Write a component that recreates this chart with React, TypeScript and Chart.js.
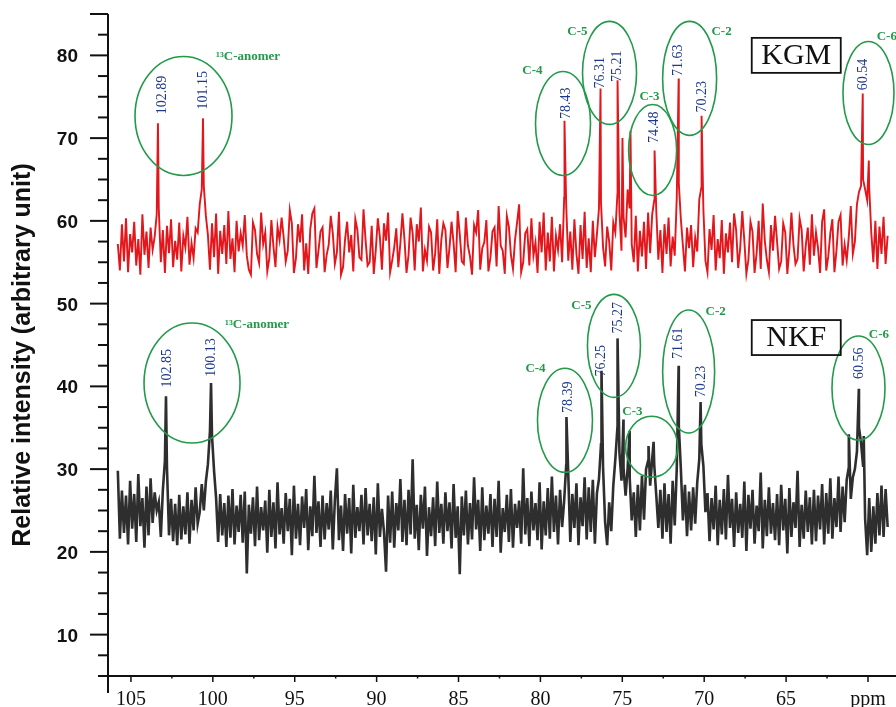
import React, { useEffect, useRef } from 'react';
import { Chart, registerables } from 'chart.js';

Chart.register(...registerables);

// Sampling grid of the spectra (ppm of first sample and spacing)
const GRID_START = 105.8;
const GRID_STEP = 0.125;

// KGM spectrum: baseline samples (red trace)
const kgmNoise: number[] = [
  57.2, 54.0, 59.6, 55.1, 60.3, 53.8, 58.4, 56.2, 59.9, 54.6, 57.8, 53.5, 60.8, 55.9, 58.7, 54.3, 59.2, 56.5, 58.1, 60.8,
  61.5, 55.0, 58.9, 53.7, 59.4, 56.1, 60.2, 54.4, 57.6, 55.3, 59.8, 53.9, 58.2, 56.8, 60.5, 54.7, 57.3, 55.5, 59.1, 58.6,
  62.0, 63.8, 64.2, 60.6, 58.3, 54.1, 59.7, 55.6, 60.9, 53.6, 58.8, 56.0, 59.5, 54.8, 61.2, 55.4, 57.9, 53.8, 60.0, 56.3,
  58.5, 57.0, 60.7, 55.8, 54.1, 53.5, 59.8, 58.9, 56.0, 54.9, 61.0, 57.2, 58.6, 53.9, 55.5, 60.1, 56.9, 54.4, 59.3, 57.7,
  60.4, 58.0, 55.1, 56.4, 61.3, 59.7, 53.7, 55.5, 59.6, 57.4, 60.8, 54.0, 57.3, 53.6, 59.0, 60.9, 61.5, 54.3, 56.4, 58.7,
  59.2, 53.8, 55.9, 57.1, 60.6, 58.5, 54.8, 56.2, 61.1, 53.5, 54.4, 57.8, 59.9, 56.2, 58.3, 53.9, 60.2, 58.9, 55.6, 55.3,
  61.4, 57.7, 54.6, 55.0, 59.4, 53.6, 56.5, 60.3, 58.0, 54.1, 59.7, 57.6, 61.0, 53.8, 55.2, 56.8, 59.1, 54.4, 57.3, 60.9,
  57.8, 53.7, 55.9, 60.4, 58.5, 54.0, 59.6, 57.5, 61.6, 53.9, 56.5, 55.2, 59.3, 58.6, 54.0, 56.1, 60.2, 53.6, 57.7, 59.7,
  58.9, 54.3, 56.8, 59.9, 57.3, 53.8, 61.2, 58.4, 55.1, 54.8, 60.4, 57.0, 55.7, 53.5, 59.5, 58.6, 61.3, 54.1, 56.7, 57.4,
  60.1, 53.9, 55.6, 58.7, 59.2, 54.5, 61.8, 57.0, 56.4, 53.6, 60.6, 59.3, 55.9, 54.2, 57.7, 59.8, 62.0, 53.8, 55.0, 58.5,
  59.0, 54.6, 60.3, 55.8, 57.4, 53.7, 59.9, 56.2, 61.0, 54.0, 58.6, 55.1, 60.5, 53.9, 58.2, 56.5, 59.6, 55.0, 62.8, 61.9,
  55.2, 58.7, 54.1, 60.2, 56.0, 53.6, 59.5, 55.4, 61.1, 54.3, 57.9, 53.8, 60.0, 55.6, 58.4, 61.5, 62.2, 56.8, 54.5, 59.3,
  57.5, 54.0, 59.8, 58.6, 63.2, 61.0, 56.4, 60.5, 58.0, 63.8, 61.5, 57.2, 55.0, 60.6, 53.9, 58.8, 55.7, 59.9, 54.2, 61.0,
  56.1, 60.8, 62.5, 61.2, 55.3, 58.9, 53.7, 59.6, 56.0, 60.4, 54.5, 58.1, 55.8, 62.8, 64.5, 60.2, 57.0, 53.9, 59.2, 56.7,
  59.5, 54.4, 58.0, 56.3, 62.6, 64.0, 61.4, 55.2, 53.8, 59.0, 56.5, 60.7, 54.0, 57.8, 55.5, 60.1, 53.6, 58.5, 56.2, 59.8,
  55.0, 60.9, 58.9, 54.3, 56.8, 61.2, 57.6, 53.6, 55.3, 59.9, 58.7, 53.7, 56.1, 60.0, 54.2, 62.1, 57.6, 55.3, 53.8, 59.5,
  56.4, 60.6, 57.5, 54.2, 55.1, 59.7, 58.6, 53.6, 56.6, 61.0, 57.1, 54.8, 55.4, 60.3, 58.9, 53.9, 57.0, 59.2, 54.7, 60.8,
  55.8, 58.6, 56.7, 53.7, 59.9, 61.4, 54.0, 55.7, 58.5, 60.2, 53.8, 56.4, 59.9, 60.7, 54.6, 57.1, 55.2, 58.0, 61.8, 56.0,
  57.5, 62.0, 63.5, 64.2, 65.0, 63.8, 62.5, 64.0, 58.6, 55.0, 60.0, 54.2, 59.3, 56.0, 60.5, 54.8, 58.2,
];

// KGM resonance tops (ppm, intensity)
const kgmPeakPpm: number[] = [103.35, 100.6, 78.53, 76.33, 75.29, 74.99, 74.5, 73.03, 71.56, 70.16, 60.32, 59.95];
const kgmPeakVal: number[] = [71.8, 72.4, 72.1, 76.0, 77.0, 70.0, 70.9, 68.5, 77.2, 72.7, 75.4, 67.3];

// NKF spectrum: baseline samples (dark trace)
const nkfNoise: number[] = [
  29.8, 21.6, 27.4, 22.3, 26.8, 20.9, 28.6, 22.8, 27.0, 21.2, 29.4, 23.1, 26.5, 20.5, 27.9, 22.0, 28.9, 23.5, 27.2, 25.0,
  26.0, 21.8, 27.5, 31.0, 30.2, 22.0, 26.4, 21.3, 25.8, 20.8, 26.9, 21.5, 25.5, 22.1, 27.2, 21.0, 26.3, 22.6, 27.8, 23.4,
  24.8, 28.2, 25.0, 28.5, 30.6, 34.6, 34.0, 29.8, 26.5, 21.2, 27.0, 22.0, 25.9, 20.6, 26.8, 21.7, 27.6, 20.9, 25.6, 22.4,
  26.9, 21.1, 27.3, 17.4, 25.7, 22.2, 26.6, 20.7, 27.9, 21.4, 25.4, 22.6, 26.2, 19.9, 27.5, 21.8, 26.0, 20.4, 28.4, 22.1,
  25.3, 21.0, 27.1, 22.5, 26.4, 19.6, 28.0, 21.6, 25.8, 20.8, 26.7, 22.9, 27.6, 20.2, 25.5, 21.9, 29.2, 22.3, 26.1, 20.6,
  26.8, 21.5, 25.9, 22.7, 27.4, 20.3, 26.2, 30.1, 21.4, 25.6, 20.1, 27.0, 22.2, 26.5, 19.8, 28.1, 21.7, 25.4, 22.5, 26.9,
  20.9, 27.7, 22.0, 25.8, 21.3, 26.6, 19.7, 28.3, 21.8, 25.2, 22.4, 17.6, 26.8, 21.1, 27.3, 20.5, 25.9, 22.6, 28.8, 21.2,
  26.3, 20.8, 27.5, 22.1, 31.2, 21.6, 25.7, 20.2, 26.9, 22.8, 27.9, 19.5, 25.4, 21.9, 26.6, 20.7, 28.5, 22.3, 25.8, 21.0,
  27.2, 22.5, 26.0, 20.4, 28.2, 21.7, 25.5, 17.3, 26.7, 22.0, 27.4, 20.9, 25.9, 21.5, 29.0, 22.7, 26.3, 20.1, 27.8, 21.4,
  25.6, 22.2, 27.0, 20.6, 26.4, 21.8, 28.6, 19.9, 25.3, 22.4, 26.9, 21.2, 27.6, 20.5, 25.8, 22.9, 26.2, 21.0, 30.1, 22.1,
  26.5, 20.7, 27.3, 22.6, 25.9, 21.4, 28.4, 20.3, 26.1, 22.0, 27.7, 21.6, 29.1, 22.4, 26.8, 20.9, 27.5, 23.0, 26.2, 30.5,
  29.4, 21.2, 27.0, 22.9, 28.3, 20.8, 26.6, 23.1, 29.0, 21.5, 27.8, 22.4, 28.7, 21.0, 27.1, 28.8, 33.0, 30.2, 23.6, 20.8,
  26.0, 22.5, 28.0, 31.2, 35.0, 32.0, 28.6, 30.2, 26.8, 30.1, 29.0, 23.8, 27.2, 21.8, 28.1, 22.6, 29.2, 23.9, 30.0, 31.0,
  28.0, 31.2, 30.5, 26.8, 22.9, 27.5, 21.6, 28.3, 22.4, 27.0, 21.0, 28.6, 23.2, 30.1, 35.2, 30.0, 23.8, 28.1, 21.9, 27.3,
  22.6, 27.8, 23.4, 28.4, 31.2, 33.0, 30.4, 24.8, 27.1, 21.3, 26.5, 22.7, 28.0, 20.8, 26.3, 22.1, 27.6, 21.5, 29.3, 22.9,
  26.4, 20.6, 27.2, 22.3, 25.8, 21.7, 28.5, 20.1, 26.9, 22.8, 27.5, 21.0, 25.6, 22.5, 29.6, 20.4, 26.3, 21.9, 27.8, 22.2,
  25.9, 21.4, 27.0, 20.8, 28.1, 22.6, 26.4, 19.8, 27.7, 21.8, 26.0, 22.9, 29.8, 20.6, 25.7, 21.6, 27.4, 22.4, 26.6, 20.9,
  27.5, 21.3, 26.8, 22.7, 28.2, 20.9, 27.1, 22.2, 28.9, 21.6, 26.5, 23.0, 29.1, 22.4, 27.9, 23.6, 28.7, 30.2, 26.4, 29.0,
  30.0, 32.1, 35.0, 33.2, 30.4, 24.0, 19.6, 26.5, 20.0, 25.5, 21.0, 27.1, 22.0, 28.0, 21.8, 27.6, 23.0,
];

// NKF resonance tops (ppm, intensity)
const nkfPeakPpm: number[] = [102.86, 100.11, 78.41, 76.27, 75.29, 74.93, 74.56, 73.4, 73.09, 71.56, 70.22, 61.17, 60.56, 60.26];
const nkfPeakVal: number[] = [38.8, 40.4, 36.3, 41.9, 45.8, 36.0, 34.6, 32.8, 33.3, 42.5, 38.1, 34.2, 39.7, 34.0];

// Axis tick labels
const xTickValues: number[] = [105, 100, 95, 90, 85, 80, 75, 70, 65];
const xUnitTick = 60;
const xUnitLabel = 'ppm';
const yTickValues: number[] = [10, 20, 30, 40, 50, 60, 70, 80];
const yTitle = 'Relative intensity (arbitrary unit)';

// Annotations (positions in data coordinates)
const ellipses = [
  { ppm: 101.79, val: 72.67, rx: 48.5, ry: 59.5 },
  { ppm: 78.62, val: 71.77, rx: 27.5, ry: 52 },
  { ppm: 75.78, val: 77.88, rx: 27, ry: 51.5 },
  { ppm: 73.15, val: 68.56, rx: 24, ry: 45.5 },
  { ppm: 70.89, val: 77.22, rx: 27, ry: 57 },
  { ppm: 59.97, val: 75.46, rx: 25.5, ry: 51.5 },
  { ppm: 101.27, val: 40.4, rx: 48, ry: 60 },
  { ppm: 78.5, val: 35.9, rx: 27.5, ry: 52 },
  { ppm: 75.51, val: 44.9, rx: 26.5, ry: 51.5 },
  { ppm: 73.21, val: 32.7, rx: 26, ry: 30.5 },
  { ppm: 70.95, val: 41.8, rx: 26, ry: 61.5 },
  { ppm: 60.58, val: 39.8, rx: 26.5, ry: 52 },
];

const groupLabels = [
  { text: '¹³C-anomer', ppm: 97.85, val: 79.9 },
  { text: 'C-4', ppm: 80.49, val: 78.2 },
  { text: 'C-5', ppm: 77.74, val: 82.9 },
  { text: 'C-3', ppm: 73.34, val: 75.0 },
  { text: 'C-2', ppm: 68.94, val: 82.9 },
  { text: 'C-6', ppm: 58.85, val: 82.3 },
  { text: '¹³C-anomer', ppm: 97.3, val: 47.5 },
  { text: 'C-4', ppm: 80.3, val: 42.1 },
  { text: 'C-5', ppm: 77.5, val: 49.7 },
  { text: 'C-3', ppm: 74.38, val: 37.0 },
  { text: 'C-2', ppm: 69.3, val: 49.0 },
  { text: 'C-6', ppm: 59.33, val: 46.3 },
];

const shiftLabels = [
  { text: '102.89', ppm: 103.1, val: 75.2 },
  { text: '101.15', ppm: 100.6, val: 75.8 },
  { text: '78.43', ppm: 78.41, val: 74.2 },
  { text: '76.31', ppm: 76.33, val: 77.9 },
  { text: '75.21', ppm: 75.29, val: 78.7 },
  { text: '74.48', ppm: 73.03, val: 71.3 },
  { text: '71.63', ppm: 71.56, val: 79.4 },
  { text: '70.23', ppm: 70.1, val: 75.0 },
  { text: '60.54', ppm: 60.26, val: 77.7 },
  { text: '102.85', ppm: 102.8, val: 42.2 },
  { text: '100.13', ppm: 100.11, val: 43.5 },
  { text: '78.39', ppm: 78.29, val: 38.7 },
  { text: '76.25', ppm: 76.27, val: 43.1 },
  { text: '75.27', ppm: 75.23, val: 48.3 },
  { text: '71.61', ppm: 71.56, val: 45.2 },
  { text: '70.23', ppm: 70.16, val: 40.6 },
  { text: '60.56', ppm: 60.5, val: 42.8 },
];

const sampleBoxes = [
  { text: 'KGM', ppm: 64.38, val: 80.0 },
  { text: 'NKF', ppm: 64.38, val: 45.9 },
];

const GREEN = '#23994a';
const NAVY = '#1d3888';
const SERIF = '"Liberation Serif", "Times New Roman", serif';
const SANS = '"Liberation Sans", Arial, sans-serif';

function buildSeries(noise: number[], peakPpm: number[], peakVal: number[]) {
  const pts = noise.map((v, i) => ({ x: Math.round((GRID_START - i * GRID_STEP) * 1000) / 1000, y: v }));
  peakPpm.forEach((p, k) => pts.push({ x: p, y: peakVal[k] }));
  pts.sort((a, b) => b.x - a.x);
  return pts;
}

const annotationPlugin = {
  id: 'nmrAnnotations',
  afterDatasetsDraw(chart: any) {
    const { ctx } = chart;
    const xs = chart.scales.x;
    const ys = chart.scales.y;
    const px = (p: number) => xs.getPixelForValue(p);
    const py = (v: number) => ys.getPixelForValue(v);
    ctx.save();
    ctx.strokeStyle = GREEN;
    ctx.lineWidth = 1.6;
    ellipses.forEach((e) => {
      ctx.beginPath();
      ctx.ellipse(px(e.ppm), py(e.val), e.rx, e.ry, 0, 0, Math.PI * 2);
      ctx.stroke();
    });
    ctx.fillStyle = GREEN;
    ctx.font = `bold 13px ${SERIF}`;
    ctx.textAlign = 'center';
    ctx.textBaseline = 'middle';
    groupLabels.forEach((g) => ctx.fillText(g.text, px(g.ppm), py(g.val)));
    ctx.fillStyle = NAVY;
    ctx.font = `14px ${SERIF}`;
    shiftLabels.forEach((s) => {
      ctx.save();
      ctx.translate(px(s.ppm), py(s.val));
      ctx.rotate(-Math.PI / 2);
      ctx.fillText(s.text, 0, 0);
      ctx.restore();
    });
    ctx.strokeStyle = '#111';
    ctx.lineWidth = 1.8;
    ctx.fillStyle = '#111';
    ctx.font = `30px ${SERIF}`;
    sampleBoxes.forEach((b) => {
      const cx = px(b.ppm);
      const cy = py(b.val);
      ctx.strokeRect(cx - 44.5, cy - 17.5, 89, 35);
      ctx.fillText(b.text, cx, cy + 1);
    });
    ctx.restore();
  },
  afterDraw(chart: any) {
    const { ctx, chartArea } = chart;
    const xs = chart.scales.x;
    const ys = chart.scales.y;
    const { left, right, top, bottom } = chartArea;
    ctx.save();
    ctx.strokeStyle = '#111';
    ctx.lineWidth = 2;
    ctx.beginPath();
    ctx.moveTo(left, top);
    ctx.lineTo(left, bottom + 17);
    ctx.moveTo(left - 8, bottom);
    ctx.lineTo(right, bottom);
    ctx.stroke();
    // y ticks and labels
    ctx.fillStyle = '#111';
    ctx.font = `bold 19px ${SANS}`;
    ctx.textAlign = 'right';
    ctx.textBaseline = 'alphabetic';
    ys.ticks.forEach((t: any) => {
      const v = t.value;
      const major = Math.abs(v % 10) < 1e-6 || Math.abs(v - 85) < 1e-6;
      const yy = ys.getPixelForValue(v);
      ctx.beginPath();
      ctx.moveTo(left - (major ? 18 : 10), yy);
      ctx.lineTo(left, yy);
      ctx.stroke();
      if (yTickValues.includes(v)) ctx.fillText(String(v), left - 30, yy + 7);
    });
    // x ticks and labels
    ctx.lineWidth = 1.5;
    ctx.font = `20px ${SERIF}`;
    ctx.textAlign = 'center';
    xs.ticks.forEach((t: any) => {
      const v = t.value;
      const major = Math.abs(v % 5) < 1e-6;
      const xx = xs.getPixelForValue(v);
      ctx.beginPath();
      ctx.moveTo(xx, bottom);
      ctx.lineTo(xx, bottom + (major ? 6 : 2.5));
      ctx.stroke();
      let label: string | null = null;
      if (Math.abs(v - xUnitTick) < 1e-6) label = xUnitLabel;
      else if (xTickValues.includes(v)) label = String(v);
      if (label) ctx.fillText(label, xx, bottom + 29);
    });
    // y title
    ctx.font = `bold 25px ${SANS}`;
    ctx.textBaseline = 'middle';
    ctx.translate(23, 355);
    ctx.rotate(-Math.PI / 2);
    ctx.fillText(yTitle, 0, 0);
    ctx.restore();
  },
};

export default function App() {
  const canvasRef = useRef<HTMLCanvasElement | null>(null);

  useEffect(() => {
    if (!canvasRef.current) return;
    const chart = new Chart(canvasRef.current, {
      type: 'line',
      data: {
        datasets: [
          {
            label: 'KGM',
            data: buildSeries(kgmNoise, kgmPeakPpm, kgmPeakVal),
            borderColor: '#e3161c',
            borderWidth: 1.9,
            pointRadius: 0,
            tension: 0,
            fill: false,
          },
          {
            label: 'NKF',
            data: buildSeries(nkfNoise, nkfPeakPpm, nkfPeakVal),
            borderColor: '#2e2e2e',
            borderWidth: 2.6,
            pointRadius: 0,
            tension: 0,
            fill: false,
          },
        ],
      },
      options: {
        animation: false,
        responsive: false,
        devicePixelRatio: 1,
        layout: { padding: { top: 14, right: 0, left: 108, bottom: 31 } },
        plugins: { legend: { display: false }, tooltip: { enabled: false } },
        scales: {
          x: {
            type: 'linear',
            reverse: true,
            min: 58.29,
            max: 106.4,
            grid: { display: false, drawTicks: false },
            border: { display: false },
            ticks: { display: false, stepSize: 2.5, includeBounds: false, autoSkip: false },
          },
          y: {
            type: 'linear',
            min: 5,
            max: 85,
            grid: { display: false, drawTicks: false },
            border: { display: false },
            ticks: { display: false, stepSize: 2.5, autoSkip: false },
          },
        },
      },
      plugins: [annotationPlugin],
    } as any);
    return () => chart.destroy();
  }, []);

  return (
    <div style={{ position: 'fixed', left: 0, top: 0, width: 896, height: 707, background: '#fff' }}>
      <canvas ref={canvasRef} width={896} height={707} style={{ display: 'block', width: 896, height: 707 }} />
    </div>
  );
}
